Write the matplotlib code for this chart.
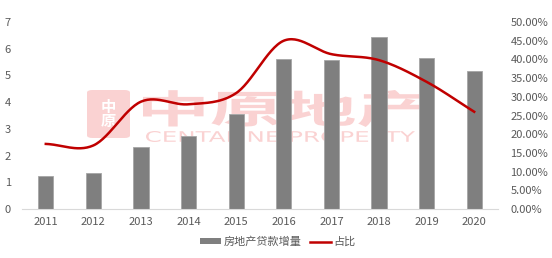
import matplotlib
matplotlib.use("Agg")
import matplotlib.pyplot as plt
import numpy as np
from matplotlib.patches import FancyBboxPatch, PathPatch, Patch
from matplotlib.lines import Line2D
from matplotlib.textpath import TextPath
from matplotlib.font_manager import FontProperties
from matplotlib.transforms import Affine2D

plt.rcParams['font.family'] = ['Noto Sans CJK SC', 'DejaVu Sans']

years = ['2011', '2012', '2013', '2014', '2015', '2016', '2017', '2018', '2019', '2020']
loan_increase = [1.22, 1.34, 2.31, 2.72, 3.56, 5.63, 5.57, 6.42, 5.67, 5.16]
share_pct = [17.4, 17.0, 28.7, 28.0, 31.0, 45.0, 41.4, 39.8, 34.0, 26.0]

def catmull_rom(xs, ys, n=30):
    xs = np.asarray(xs, float); ys = np.asarray(ys, float)
    px = np.concatenate([[2*xs[0]-xs[1]], xs, [2*xs[-1]-xs[-2]]])
    py = np.concatenate([[2*ys[0]-ys[1]], ys, [2*ys[-1]-ys[-2]]])
    ox, oy = [], []
    for i in range(1, len(px)-2):
        t = np.linspace(0, 1, n, endpoint=(i == len(px)-3))
        for arr, out in ((px, ox), (py, oy)):
            p0, p1, p2, p3 = arr[i-1], arr[i], arr[i+1], arr[i+2]
            out.extend(0.5*((2*p1) + (-p0+p2)*t + (2*p0-5*p1+4*p2-p3)*t**2 + (-p0+3*p1-3*p2+p3)*t**3))
    return np.array(ox), np.array(oy)

W, H = 552, 258
fig = plt.figure(figsize=(W/100, H/100), dpi=100)
ax = fig.add_axes([22/W, 49/H, 476/W, 187/H])
ax2 = ax.twinx()

x = np.arange(len(years))
grey_txt = '#595959'

# watermark (pixel coordinates, origin bottom-left)
wm = '#fad2d2'
def stretched_text(s, x0, x1, y0, y1, fp):
    tp = TextPath((0, 0), s, size=100, prop=fp)
    ext = tp.get_extents()
    tr = (Affine2D().translate(-ext.x0, -ext.y0)
          .scale((x1-x0)/ext.width, (y1-y0)/ext.height)
          .translate(x0, y0).scale(1/W, 1/H))
    p = tr.transform_path(tp)
    patch = PathPatch(p, transform=fig.transFigure, facecolor=wm, edgecolor='none', zorder=0.5)
    ax.add_patch(patch)

stretched_text('中原地产', 143, 425, H-127, H-90, FontProperties(family='Noto Sans CJK SC', weight='bold'))
stretched_text('CENTALINE PROPERTY', 146, 415, H-142, H-131, FontProperties(family='DejaVu Sans'))

logo = FancyBboxPatch((87/W, (H-138)/H), 43/W, 48/H, boxstyle='round,pad=0,rounding_size=0.01',
                      transform=fig.transFigure, facecolor=wm, edgecolor='none', zorder=0.5)
ax.add_patch(logo)
ax.text(108/W, (H-114)/H, '中\n原', transform=fig.transFigure, color='white', fontsize=11,
        ha='center', va='center', linespacing=0.9, fontweight='bold', zorder=0.6)

ax.bar(x, loan_increase, width=0.32, color='#7f7f7f', edgecolor='#a6a6a6', linewidth=0.6, zorder=2)
ax.set_xlim(-0.5, len(years)-0.5)
ax.set_ylim(0, 7)
ax.set_yticks(range(0, 8))
ax.set_xticks(x)
ax.set_xticklabels(years)

sx, sy = catmull_rom(x, share_pct)
ax2.plot(sx, sy, color='#c00000', linewidth=1.8, zorder=3)
ax2.set_ylim(0, 50)
ax2.set_yticks(np.arange(0, 51, 5))
ax2.set_yticklabels([f'{v:.2f}%' for v in np.arange(0, 51, 5)])

for a in (ax, ax2):
    for s in a.spines.values():
        s.set_visible(False)
    a.tick_params(length=0, colors=grey_txt, labelsize=8)
ax.spines['bottom'].set_visible(True)
ax.spines['bottom'].set_color('#d9d9d9')
ax.tick_params(axis='x', pad=6)
ax.tick_params(axis='y', pad=8)
ax2.tick_params(axis='y', pad=9)

handles = [Patch(facecolor='#7f7f7f', edgecolor='none'),
           Line2D([0], [0], color='#c00000', linewidth=1.8)]
fig.legend(handles, ['房地产贷款增量', '占比'], loc='center', bbox_to_anchor=(278/W, 16/H),
           ncol=2, frameon=False, fontsize=8, labelcolor=grey_txt, handlelength=1.9,
           handleheight=0.5, handletextpad=0.2, columnspacing=0.8)

fig.savefig('out.png', dpi=100)
